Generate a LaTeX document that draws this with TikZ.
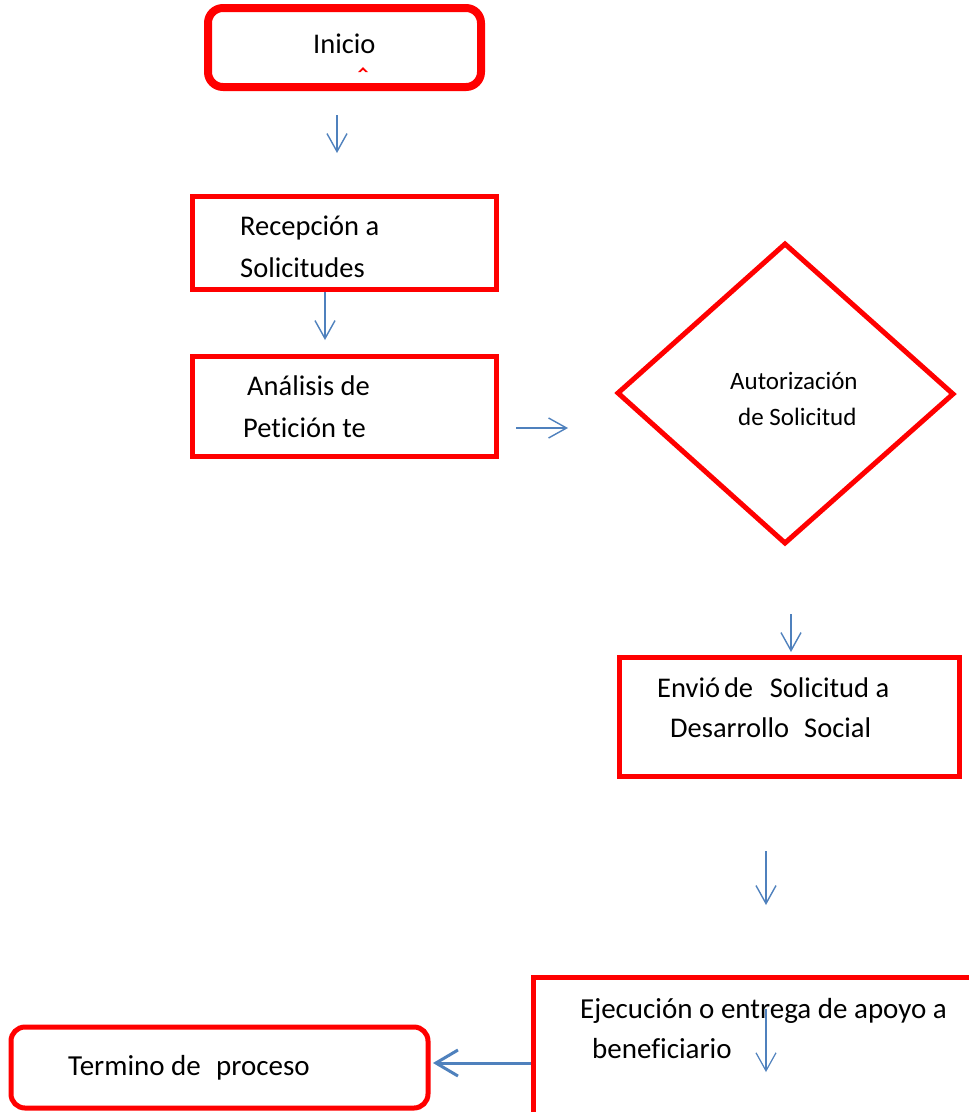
\documentclass[tikz,border=0pt]{standalone}
\usepackage{fontspec}
\setmainfont{Carlito}[Ligatures=NoCommon]
\usetikzlibrary{arrows.meta,shapes.geometric}
\definecolor{boxred}{RGB}{255,0,0}
\definecolor{arrblue}{RGB}{79,129,189}
\tikzset{
  redbox/.style={draw=boxred, line width=5pt, fill=white},
  thickbox/.style={draw=boxred, line width=8pt, rounded corners=15pt},
  roundbox/.style={draw=boxred, line width=5pt, rounded corners=14pt},
  arr/.style={draw=arrblue, line width=1.4pt, -{Straight Barb[length=18pt,width=20pt]}},
  thickarr/.style={draw=arrblue, line width=3pt, -{Straight Barb[length=22pt,width=26pt]}},
  lbl/.style={anchor=base west, inner sep=0pt, font=\fontsize{28.5}{34}\selectfont},
  biglbl/.style={anchor=base west, inner sep=0pt, font=\fontsize{29}{34}\selectfont},
  smalllbl/.style={anchor=base west, inner sep=0pt, font=\fontsize{25}{30}\selectfont},
}
\begin{document}
\begin{tikzpicture}[x=1pt,y=-1pt]
\useasboundingbox (0,0) rectangle (969,1112);
\clip (0,0) rectangle (969,1112);
\fill[white] (0,0) rectangle (969,1112);

% Inicio
\draw[thickbox] (208,8) rectangle (481,87);
\node[lbl] (tinicio) at (313,53) {Inicio};
\fill[boxred] (358,72) -- (363,67) -- (368,72) -- (365.5,72) -- (363,69.8) -- (360.5,72) -- cycle;

\coordinate (a1s) at (337,115);
\coordinate (a1e) at (337,153);
\draw[arr] (a1s) -- (a1e);

% Recepcion
\node[redbox, minimum width=304pt, minimum height=93pt, inner sep=0pt] (recep) at (344,242.5) {};
\node[lbl] (trecep1) at (240,235) {Recepción a};
\node[lbl] (trecep2) at (240,277) {Solicitudes};

\coordinate (a2s) at (325,292);
\coordinate (a2e) at (325,340);
\draw[arr] (a2s) -- (a2e);

% Analisis
\node[redbox, minimum width=304pt, minimum height=100pt, inner sep=0pt] (anal) at (344,406) {};
\node[lbl] (tanal1) at (247,395) {Análisis de};
\node[lbl] (tanal2) at (243,437) {Petición te};

\coordinate (a3s) at (516,428);
\coordinate (a3e) at (568,428);
\draw[arr] (a3s) -- (a3e);

% Diamond
\coordinate (dl) at (618,393);
\coordinate (dt) at (785,244);
\coordinate (dr) at (953,394);
\coordinate (db) at (785,543);
\draw[draw=boxred, line width=5pt, line join=miter] (dl) -- (dt) -- (dr) -- (db) -- cycle;
\node[smalllbl] (tdia1) at (730,389) {Autorización};
\node[smalllbl] (tdia2) at (738,425) {de Solicitud};

\coordinate (a4s) at (791,614);
\coordinate (a4e) at (791,652);
\draw[arr] (a4s) -- (a4e);

% Envio
\node[redbox, minimum width=340pt, minimum height=119pt, inner sep=0pt] (envio) at (789,716.5) {};
\node[lbl] (tenv1) at (657,697) {Envió\hspace{0.14em}de\hspace{0.36em} Solicitud a};
\node[lbl] (tenv2) at (670,737) {Desarrollo\hspace{0.3em} Social};

\coordinate (a5s) at (766,851);
\coordinate (a5e) at (766,905);
\draw[arr] (a5s) -- (a5e);

% Ejecucion (cut off at right and bottom)
\draw[redbox] (533,977) rectangle (1010,1150);
\node[biglbl] (tej1) at (580,1018) {Ejecución o entrega de apoyo a};
\node[biglbl] (tej2) at (592,1058) {beneficiario};
\coordinate (a6s) at (766,1009);
\coordinate (a6e) at (766,1072);
\draw[arr, line width=1.2pt] (a6s) -- (a6e);

% Termino
\draw[roundbox] (11,1027) rectangle (428,1108);
\node[biglbl] (tterm) at (68,1075) {Termino de\hspace{0.3em} proceso};
\coordinate (a7s) at (531,1063);
\coordinate (a7e) at (433,1063);
\draw[thickarr] (a7s) -- (a7e);
\end{tikzpicture}
\end{document}
